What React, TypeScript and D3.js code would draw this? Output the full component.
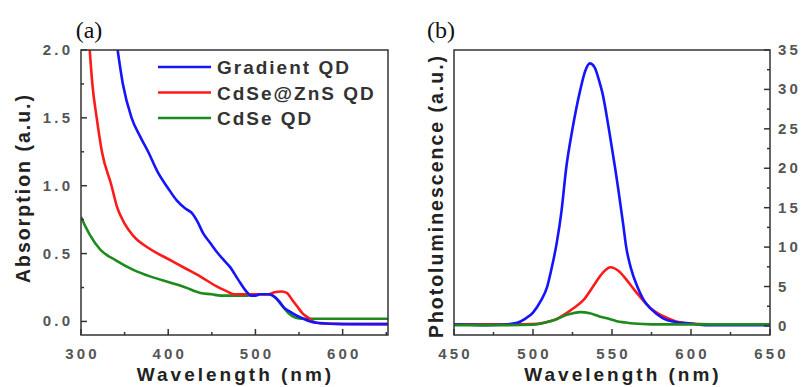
import React from "react";
import * as d3 from "d3";

// ---------- Data ----------
// Panel (a): absorption spectra
const absGradientWl = [342, 348, 358, 368, 377, 388, 400, 410, 420, 427, 434, 440, 448, 456, 464, 471, 480, 491, 495, 500, 505, 515, 520, 527, 533, 540, 548, 555, 563, 570, 600, 652];
const absGradientVal = [2.0, 1.75, 1.5, 1.36, 1.25, 1.1, 0.98, 0.89, 0.83, 0.8, 0.73, 0.65, 0.58, 0.51, 0.45, 0.4, 0.31, 0.21, 0.19, 0.19, 0.2, 0.2, 0.19, 0.15, 0.1, 0.07, 0.04, 0.02, 0.0, -0.01, -0.02, -0.02];

const absCdSeZnSWl = [310, 313, 318, 324, 335, 341, 350, 360, 380, 400, 420, 437, 455, 468, 475, 500, 515, 522, 530, 536, 542, 548, 554, 560, 566, 575, 652];
const absCdSeZnSVal = [2.0, 1.75, 1.5, 1.25, 1.0, 0.85, 0.72, 0.63, 0.53, 0.46, 0.39, 0.33, 0.26, 0.22, 0.2, 0.2, 0.2, 0.215, 0.22, 0.21, 0.16, 0.11, 0.06, 0.03, 0.0, -0.015, -0.02];

const absCdSeWl = [300, 305, 310, 322, 340, 360, 380, 400, 420, 437, 450, 460, 490, 500, 515, 522, 530, 538, 545, 552, 652];
const absCdSeVal = [0.77, 0.7, 0.64, 0.53, 0.45, 0.38, 0.33, 0.29, 0.25, 0.21, 0.2, 0.19, 0.19, 0.2, 0.2, 0.18, 0.12, 0.06, 0.03, 0.02, 0.02];

// Panel (b): photoluminescence spectra
const plGradientWl = [450, 460, 470, 480, 490, 495, 500, 505, 509, 512, 515, 518, 521, 525, 530, 533, 536, 539, 542, 544, 548, 552, 554, 557, 559, 562, 566, 570, 575, 582, 590, 600, 610, 620, 650];
const plGradientVal = [0.2, 0.15, 0.1, 0.15, 0.4, 0.9, 1.7, 3.2, 5, 7.5, 10.5, 14.5, 20, 25, 30, 32.3, 33.3, 32.8, 31, 29.5, 25, 20, 17.3, 13, 10, 7.3, 5, 3.3, 2.1, 1.0, 0.5, 0.3, 0.1, 0.1, 0.1];

const plCdSeZnSWl = [450, 470, 490, 499, 505, 511, 516, 521, 526, 532, 538, 544, 549, 554, 559, 564, 569, 574, 579, 585, 590, 595, 605, 620, 650];
const plCdSeZnSVal = [0.2, 0.2, 0.2, 0.25, 0.35, 0.6, 1.0, 1.6, 2.3, 3.3, 5.0, 6.7, 7.45, 7.0, 5.9, 4.6, 3.4, 2.3, 1.6, 1.0, 0.6, 0.4, 0.25, 0.2, 0.2];

const plCdSeWl = [450, 480, 500, 506, 510, 515, 521, 526, 530, 536, 542, 548, 553, 558, 564, 575, 600, 650];
const plCdSeVal = [0.1, 0.1, 0.15, 0.35, 0.55, 0.85, 1.4, 1.65, 1.75, 1.6, 1.2, 0.9, 0.6, 0.45, 0.3, 0.2, 0.2, 0.2];

const seriesNames = ["Gradient QD", "CdSe@ZnS QD", "CdSe QD"];
const seriesColors = ["#1414ff", "#ff1a1a", "#1e8a1e"];

const absXTicks = [300, 400, 500, 600];
const absYTicks = [0, 0.5, 1.0, 1.5, 2.0];
const plXTicks = [450, 500, 550, 600, 650];
const plYTicks = [0, 5, 10, 15, 20, 25, 30, 35];

const zip = (xs: number[], ys: number[]) => xs.map((x, i) => [x, ys[i]] as [number, number]);

const tickFont = { fontFamily: "Arial, 'Liberation Sans', sans-serif", fontWeight: 700, fontSize: 15, fill: "#555", letterSpacing: 3.2 } as any;
const titleFont = { fontFamily: "Arial, 'Liberation Sans', sans-serif", fontWeight: 700, fill: "#222" } as any;

export default function App() {
  // Panel a geometry
  const aL = 81, aR = 388, aT = 50, aB = 335;
  const xA = d3.scaleLinear().domain([300, 652]).range([aL, aR]);
  const yA = d3.scaleLinear().domain([-0.1, 2.0]).range([aB, aT]);
  // Panel b geometry
  const bL = 454, bR = 770, bT = 50, bB = 335;
  const xB = d3.scaleLinear().domain([450, 650]).range([bL, bR]);
  const yB = d3.scaleLinear().domain([-1.15, 35]).range([bB, bT]);

  const lineA = d3.line<[number, number]>().x(d => xA(d[0])).y(d => yA(d[1])).curve(d3.curveMonotoneX);
  const lineB = d3.line<[number, number]>().x(d => xB(d[0])).y(d => yB(d[1])).curve(d3.curveMonotoneX);

  const absSeries = [zip(absGradientWl, absGradientVal), zip(absCdSeZnSWl, absCdSeZnSVal), zip(absCdSeWl, absCdSeVal)];
  const plSeries = [zip(plGradientWl, plGradientVal), zip(plCdSeZnSWl, plCdSeZnSVal), zip(plCdSeWl, plCdSeVal)];
  const drawOrder = [2, 1, 0];
  const plOrder = [1, 0, 2];

  const absXMinor = d3.range(350, 651, 100);
  const absYMinor = [0.25, 0.75, 1.25, 1.75];
  const plXMinor = [475, 525, 575, 625];
  const plYMinor = d3.range(2.5, 35, 5);

  const axisColor = "#333";
  const ls = 3.2;

  return (
    <svg width={805} height={387} style={{ position: "absolute", left: 0, top: 0, background: "#fff" }}>
      <defs>
        <clipPath id="clipA"><rect x={aL} y={aT} width={aR - aL} height={aB - aT} /></clipPath>
        <clipPath id="clipB"><rect x={bL} y={bT} width={bR - bL} height={bB - bT} /></clipPath>
      </defs>

      {/* Panel a */}
      <text x={89} y={38} textAnchor="middle" fontFamily="'Liberation Serif', 'DejaVu Serif', serif" fontSize={24} fill="#111">(a)</text>
      <g clipPath="url(#clipA)">
        {drawOrder.map(i => (
          <path key={i} d={lineA(absSeries[i]) || ""} fill="none" stroke={seriesColors[i]} strokeWidth={2.6} strokeLinejoin="round" />
        ))}
      </g>
      <rect x={aL} y={aT} width={aR - aL} height={aB - aT} fill="none" stroke={axisColor} strokeWidth={1.5} />
      {absXTicks.map(t => (
        <g key={t}>
          <line x1={xA(t)} x2={xA(t)} y1={aB} y2={aB - 6} stroke={axisColor} strokeWidth={1.5} />
          <text x={xA(t) + ls / 2} y={359} textAnchor="middle" {...tickFont}>{t}</text>
        </g>
      ))}
      {absXMinor.map(t => (
        <line key={t} x1={xA(t)} x2={xA(t)} y1={aB} y2={aB - 3} stroke={axisColor} strokeWidth={1.5} />
      ))}
      {absYTicks.map(t => (
        <g key={t}>
          <line x1={aL} x2={aL + 6} y1={yA(t)} y2={yA(t)} stroke={axisColor} strokeWidth={1.5} />
          <text x={70 + ls} y={yA(t) + 5} textAnchor="end" {...tickFont}>{t.toFixed(1)}</text>
        </g>
      ))}
      {absYMinor.map(t => (
        <line key={t} x1={aL} x2={aL + 3} y1={yA(t)} y2={yA(t)} stroke={axisColor} strokeWidth={1.5} />
      ))}
      <text transform={`translate(30,${188}) rotate(-90)`} textAnchor="middle" fontSize={19.5} letterSpacing={2} {...titleFont}>Absorption (a.u.)</text>
      <text x={(aL + aR) / 2 + 1} y={381} textAnchor="middle" fontSize={19} letterSpacing={3} {...titleFont}>Wavelength (nm)</text>

      {/* Legend */}
      {seriesNames.map((n, i) => (
        <g key={n}>
          <line x1={158} x2={211} y1={67 + i * 25.5} y2={67 + i * 25.5} stroke={seriesColors[i]} strokeWidth={2.6} />
          <text x={217} y={67 + i * 25.5 + 7} fontSize={19} letterSpacing={2} fontFamily="Arial, 'Liberation Sans', sans-serif" fontWeight={700} fill="#333">{n}</text>
        </g>
      ))}

      {/* Panel b */}
      <text x={441} y={38} textAnchor="middle" fontFamily="'Liberation Serif', 'DejaVu Serif', serif" fontSize={24} fill="#111">(b)</text>
      <g clipPath="url(#clipB)">
        {plOrder.map(i => (
          <path key={i} d={lineB(plSeries[i]) || ""} fill="none" stroke={seriesColors[i]} strokeWidth={2.6} strokeLinejoin="round" />
        ))}
      </g>
      <rect x={bL} y={bT} width={bR - bL} height={bB - bT} fill="none" stroke={axisColor} strokeWidth={1.5} />
      {plXTicks.map(t => (
        <g key={t}>
          <line x1={xB(t)} x2={xB(t)} y1={bB} y2={bB - 6} stroke={axisColor} strokeWidth={1.5} />
          <text x={xB(t) + ls / 2} y={359} textAnchor="middle" {...tickFont}>{t}</text>
        </g>
      ))}
      {plXMinor.map(t => (
        <line key={t} x1={xB(t)} x2={xB(t)} y1={bB} y2={bB - 3} stroke={axisColor} strokeWidth={1.5} />
      ))}
      {plYTicks.map(t => (
        <g key={t}>
          <line x1={bR} x2={bR - 6} y1={yB(t)} y2={yB(t)} stroke={axisColor} strokeWidth={1.5} />
          <text x={778} y={yB(t) + 5} textAnchor="start" {...tickFont}>{t}</text>
        </g>
      ))}
      {plYMinor.map(t => (
        <line key={t} x1={bR} x2={bR - 3} y1={yB(t)} y2={yB(t)} stroke={axisColor} strokeWidth={1.5} />
      ))}
      <text transform={`translate(443,${196}) rotate(-90)`} textAnchor="middle" fontSize={19.5} letterSpacing={2} {...titleFont}>Photoluminescence (a.u.)</text>
      <text x={623} y={381} textAnchor="middle" fontSize={19} letterSpacing={3} {...titleFont}>Wavelength (nm)</text>
    </svg>
  );
}
